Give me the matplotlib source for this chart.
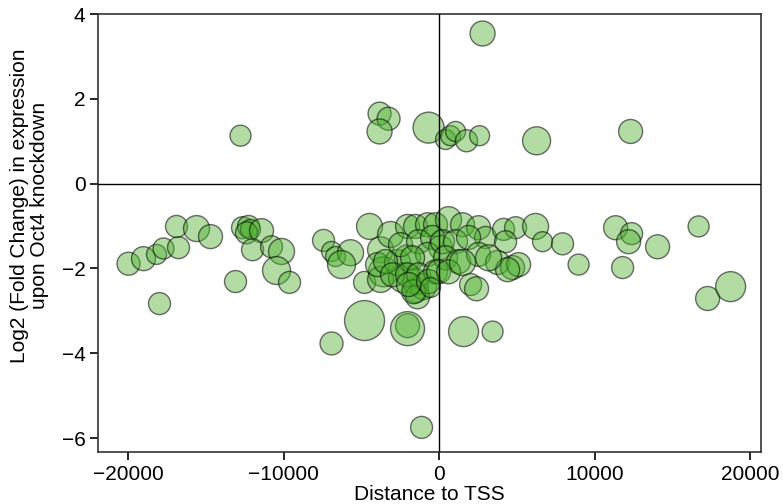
import matplotlib
matplotlib.use("Agg")
import matplotlib.pyplot as plt
import numpy as np

plt.rcParams['font.family'] = ['Liberation Sans', 'DejaVu Sans']

# Distance to TSS (bp)
distance = [
    -12766, -3826, -3248, -3826, -675, 418, 740, 1061, 1769, 2605, 2797, 6270, 12315,
    -19968, -19004, -18168, -17717, -16753, -16881, -15595, -14695, -17975, -13087,
    -12637, -12251, -12122, -12380, -11415, -11994, -10772, -10129, -10450, -9614,
    -7428, -6913, -6656, -5691, -6270, -4470, -4791, -4791, -2026, -2026, -6913, -1125,
    -3762, -3119, -3569, -3762, -3955, -2283, -2669, -2026, -1511, -1511, -997, -1383,
    -2026, -2476, -1511, -740, -225, -1318, -418, 96, -740, -1704, -3441, -2990, -2026,
    -1318, -225, -1640, -1961, -675,
    611, 1511, 2540, 2990, 4148, 4920, 4277, 225, 1061, 1897, 418, 1254, -32, 611,
    2540, 3762, 4727, 2026, 2412, 6206, 6656, 7942, 8971, 5113, 4405, 3183, 1511,
    1576, 3441, -547,
    11351, 12380, 12187, 14052, 11801, 16688, 17267, 18746,
]

# Log2 fold change upon Oct4 knockdown
log2fc = [
    1.13, 1.65, 1.53, 1.23, 1.32, 1.04, 1.13, 1.23, 1.01, 1.13, 3.54, 1.01, 1.23,
    -1.89, -1.77, -1.67, -1.53, -1.51, -1.01, -1.06, -1.25, -2.83, -2.31,
    -1.04, -1.01, -1.08, -1.16, -1.11, -1.56, -1.49, -1.60, -2.05, -2.33,
    -1.34, -1.60, -1.72, -1.63, -1.91, -1.01, -2.33, -3.23, -3.35, -3.42, -3.77, -5.75,
    -1.56, -1.20, -2.08, -2.26, -1.91, -2.22, -1.86, -1.75, -2.50, -2.31, -2.43, -2.67,
    -1.01, -1.44, -1.01, -0.97, -0.97, -1.37, -1.27, -1.51, -1.67, -1.75, -1.84, -2.15, -2.15,
    -2.15, -2.08, -2.55, -2.38, -2.31,
    -0.85, -0.97, -1.04, -1.27, -1.08, -1.04, -1.37, -1.37, -1.37, -1.27, -1.75, -1.84, -2.08, -2.08,
    -1.67, -1.86, -1.98, -2.38, -2.48, -1.01, -1.37, -1.42, -1.91, -1.91, -2.03, -1.75, -1.86,
    -3.49, -3.49, -2.45,
    -1.04, -1.18, -1.37, -1.49, -1.98, -1.01, -2.71, -2.43,
]

# bubble magnitude (arbitrary units, bubble radius)
magnitude = [
    10.5, 11.5, 11.5, 12.5, 15.5, 10, 10, 10, 11, 10, 12.5, 14, 12,
    11.5, 12, 10, 10.5, 11, 11, 13, 12, 11, 11,
    11, 11, 10, 11, 12, 11, 11, 13, 14, 11,
    11, 10, 10, 13, 14, 13, 11, 20, 12, 17, 11.5, 11,
    13, 13, 15, 13, 12, 15, 13, 13, 13, 13, 13, 12,
    12, 12, 12, 12, 12, 12, 12, 12, 12, 12, 12, 12, 12,
    12, 12, 12, 12, 12,
    13, 12, 12, 11, 11, 11, 11, 12, 12, 12, 12, 12, 12, 12,
    12, 12, 12, 11, 12, 13, 10, 11, 10.5, 12, 12, 13, 13,
    15, 10.5, 10,
    12, 11, 12, 12, 11, 10.5, 12, 15,
]

xticks = [-20000, -10000, 0, 10000, 20000]
yticks = [-6, -4, -2, 0, 2, 4]

fig = plt.figure(figsize=(7.83, 5.04), dpi=100)
ax = fig.add_axes([98/783, 52/504, 663/783, 438/504])

dpi = 100
sizes = [(2 * m * 72 / dpi) ** 2 for m in magnitude]
ax.scatter(distance, log2fc, s=sizes,
           facecolor=(0.30, 0.69, 0.18, 0.43),
           edgecolor=(0.0, 0.0, 0.0, 0.55), linewidth=1.0, zorder=2)

ax.axhline(0, color='black', lw=1.0, zorder=3)
ax.axvline(0, color='black', lw=1.0, zorder=3)

ax.set_xlim(-21930, 20700)
ax.set_ylim(-6.33, 4.0)
ax.set_xticks(xticks)
ax.set_yticks(yticks)
ax.tick_params(direction='out', length=6, width=1.2, labelsize=15, colors='black', pad=3)
for sp in ax.spines.values():
    sp.set_linewidth(1.2)
    sp.set_color('#333333')

ax.set_xlabel('Distance to TSS', fontsize=15, labelpad=1)
ax.set_ylabel('Log2 (Fold Change) in expression\nupon Oct4 knockdown', fontsize=15,
              linespacing=1.05)
ax.yaxis.set_label_coords(-0.074, 0.562)

fig.savefig('out.png', dpi=100)
